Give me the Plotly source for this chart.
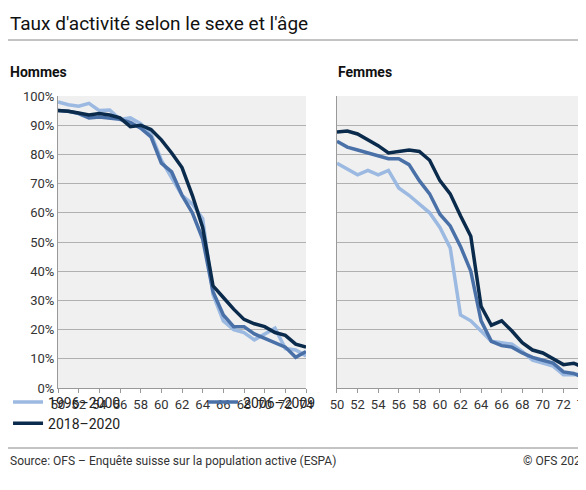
import plotly.graph_objects as go

ages = list(range(50, 75))
men_1996 = [98, 97, 96.5, 97.5, 95, 95.2, 92, 92.5, 90.5, 87, 78, 72, 66, 63, 58, 32, 23, 20, 19, 16.5, 18.5, 20.5, 13.5, 13, 11]
men_2006 = [95, 94.8, 94, 92.5, 92.8, 92.5, 92, 91, 89, 86, 77, 74, 66, 60, 51, 33, 25, 21, 21, 18.5, 17, 15.5, 14, 10.5, 12.5]
men_2018 = [95, 94.8, 94.2, 93.5, 94, 93.5, 92.5, 89.5, 90, 88.5, 85, 80.5, 75.5, 66, 55, 35, 31, 27, 23.5, 22, 21, 19, 18, 15, 14]
women_1996 = [77, 75, 73, 74.5, 73, 74.5, 68.5, 66, 63, 60, 55, 48, 25, 23, 19.5, 16, 15.5, 15, 12.5, 9.5, 8.5, 7.5, 4.5, 4.5, 5]
women_2006 = [84.5, 82.5, 81.5, 80.5, 79.5, 78.5, 78.5, 76.5, 71, 66.5, 59.5, 55.5, 48.5, 40, 23, 16, 14.5, 14, 12, 10.5, 9.5, 8.5, 5.5, 5, 3.5]
women_2018 = [87.7, 88, 87, 85, 83, 80.5, 81, 81.5, 81, 78, 71, 66.5, 59, 52, 28, 21.5, 23, 19.5, 15.5, 13, 12, 10, 8, 8.5, 7]
series_names = ["1996–2000", "2006–2009", "2018–2020"]
colors = ["#9bb9e1", "#4a70a8", "#0b2b4c"]

fig = go.Figure()
for name, col, m, w in zip(series_names, colors, [men_1996, men_2006, men_2018], [women_1996, women_2006, women_2018]):
    fig.add_trace(go.Scatter(x=ages, y=m, mode="lines", name=name, line=dict(color=col, width=3.5), xaxis="x", yaxis="y"))
    fig.add_trace(go.Scatter(x=ages, y=w, mode="lines", name=name, showlegend=False, line=dict(color=col, width=3.5), xaxis="x2", yaxis="y2"))

ax = dict(range=[50, 74], tickvals=list(range(50, 75, 2)), ticks="outside", ticklen=4, tickcolor="#999", automargin=False,
          showgrid=False, showline=True, linecolor="#999", zeroline=False, tickfont=dict(size=13, color="#333"))
ay = dict(range=[0, 100], dtick=10, showgrid=True, gridcolor="#b0b0b0", gridwidth=1, showline=True, linecolor="#999",
          automargin=False, zeroline=False, tickfont=dict(size=13, color="#333"))
fig.update_layout(
    width=586, height=490, margin=dict(l=50, r=10, t=88, b=110, autoexpand=False),
    paper_bgcolor="white", plot_bgcolor="#f0f0f0",
    font=dict(family="Roboto, Arial, sans-serif", color="#222"),
    xaxis=dict(domain=[0, 0.4715], **ax),
    xaxis2=dict(domain=[0.5304, 1], anchor="y2", **ax),
    yaxis=dict(ticksuffix="%", anchor="x", **ay),
    yaxis2=dict(showticklabels=False, anchor="x2", **ay),
    showlegend=True,
    legend=dict(orientation="h", x=-0.095, xanchor="left", y=(380-405)/292, yanchor="middle", entrywidth=150,
                font=dict(size=14, color="#222"), bgcolor="rgba(0,0,0,0)"),
)
fig.add_annotation(text="Taux d'activité selon le sexe et l'âge", xref="paper", yref="paper", x=-0.095, y=(380-15)/292,
                   xanchor="left", yanchor="middle", showarrow=False, font=dict(size=19, color="#111"))
fig.add_annotation(text="<b>Hommes</b>", xref="paper", yref="paper", x=-0.095, y=(380-64)/292, xanchor="left", yanchor="middle",
                   showarrow=False, font=dict(size=14, color="#111"))
fig.add_annotation(text="<b>Femmes</b>", xref="paper", yref="paper", x=(328-50)/526, y=(380-64)/292, xanchor="left", yanchor="middle",
                   showarrow=False, font=dict(size=14, color="#111"))
fig.add_annotation(text="Source: OFS – Enquête suisse sur la population active (ESPA)", xref="paper", yref="paper",
                   x=-0.095, y=(380-453)/292, xanchor="left", yanchor="middle", showarrow=False, font=dict(size=12, color="#333"))
fig.add_annotation(text="© OFS 2021", xref="paper", yref="paper", x=1.01, y=(380-453)/292, xanchor="right", yanchor="middle",
                   showarrow=False, font=dict(size=12, color="#333"))
for ypx in (32, 440):
    fig.add_shape(type="line", xref="paper", yref="paper", x0=-0.095, x1=1.019, y0=(380-ypx)/292, y1=(380-ypx)/292,
                  line=dict(color="#888", width=1))
fig.write_html("out.html")
